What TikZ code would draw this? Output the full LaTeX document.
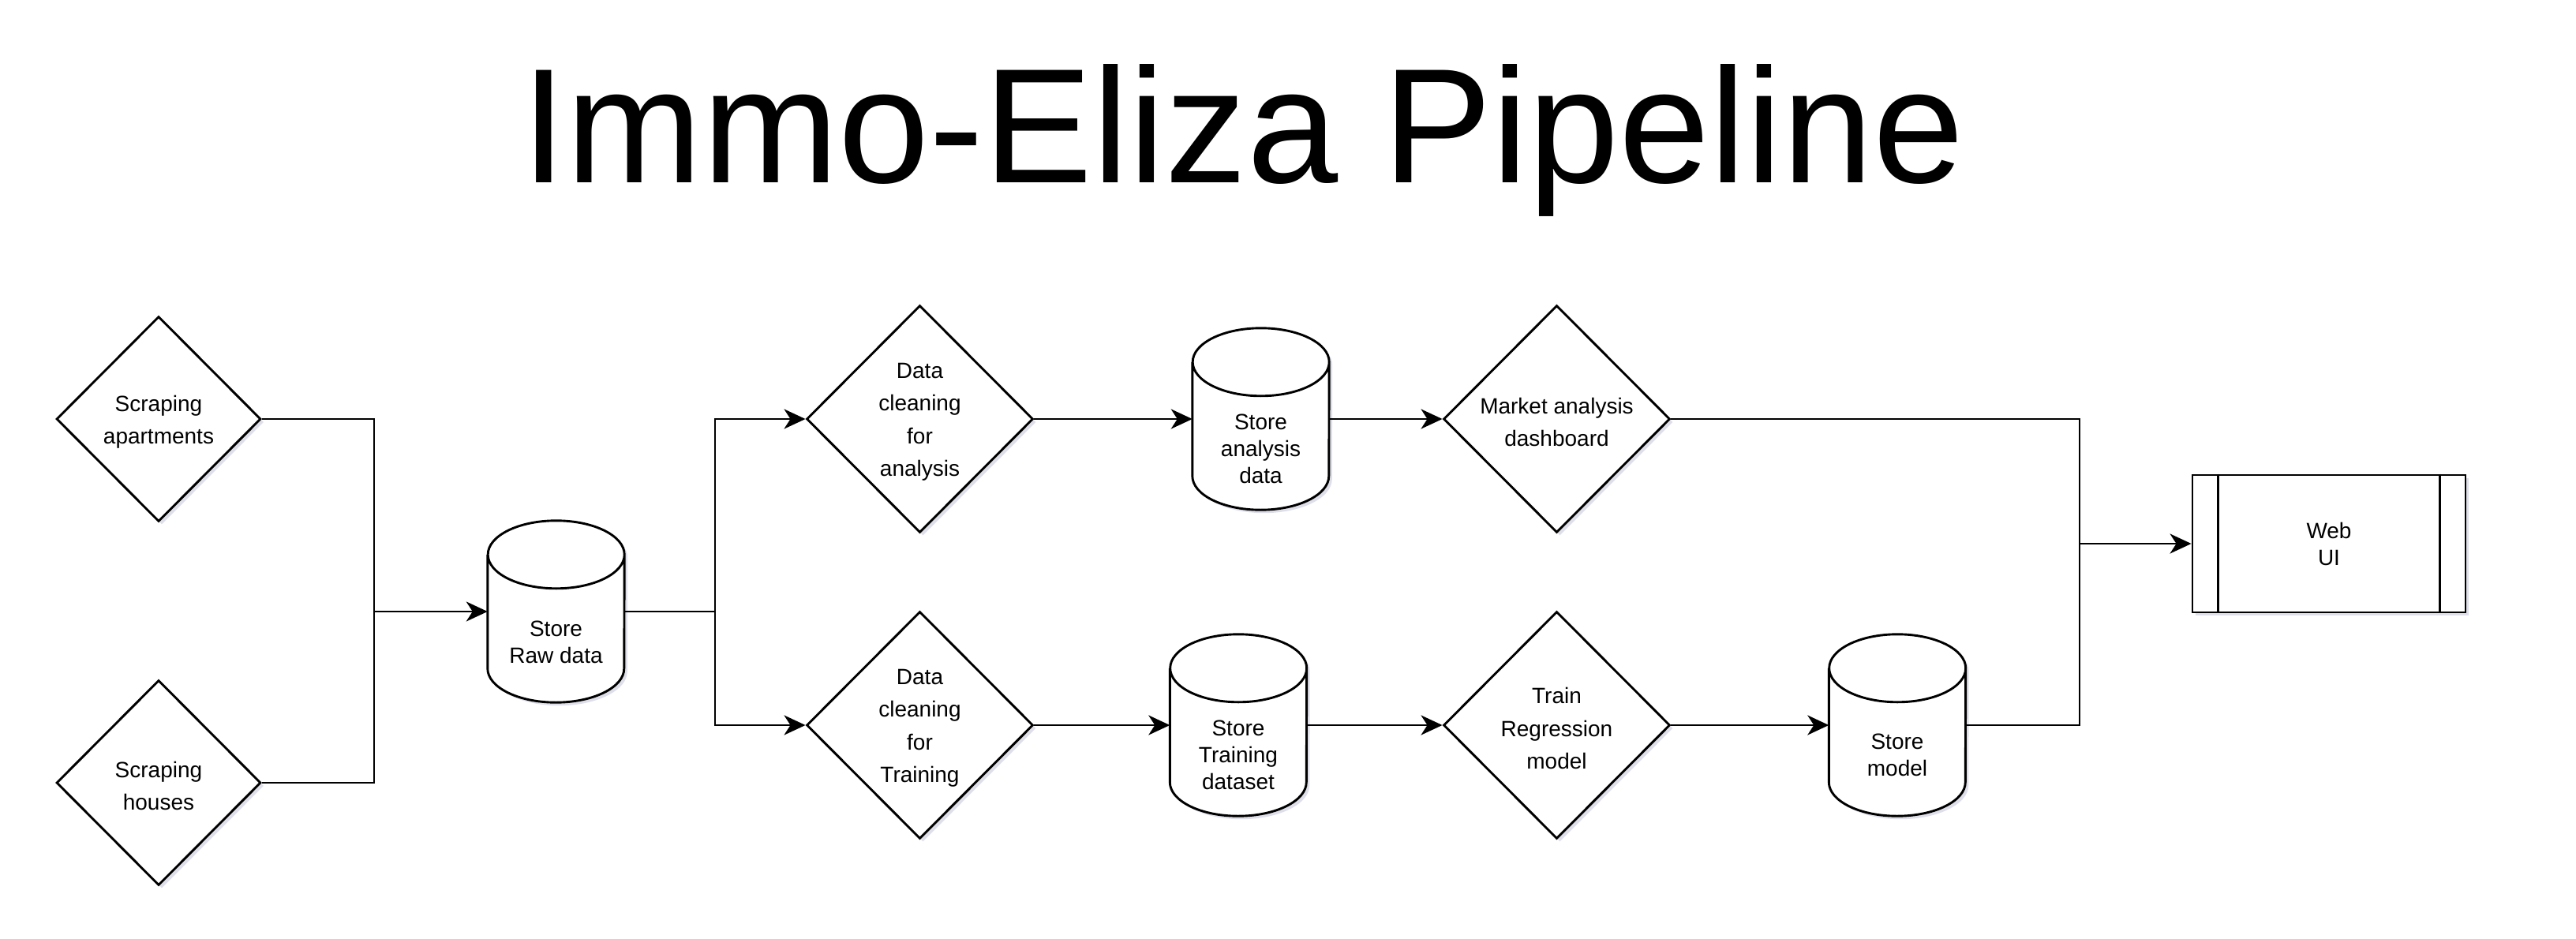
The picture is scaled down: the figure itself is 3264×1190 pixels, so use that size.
\documentclass[tikz,border=0pt]{standalone}
\usepackage{fontspec}
\setmainfont{Liberation Sans}
\usetikzlibrary{shapes.geometric,arrows.meta,shadows}
\definecolor{shd}{RGB}{110,110,160}
\newcommand\mycyl[1]{%
  \path[shp] ([yshift=-43pt]#1.north west) -- ([yshift=43pt]#1.south west)
     arc[start angle=180, end angle=360, x radius=86.5pt, y radius=43pt]
     -- ([yshift=-43pt]#1.north east)
     arc[start angle=0, end angle=360, x radius=86.5pt, y radius=43pt];
}
\begin{document}
\begin{tikzpicture}[x=1pt,y=-1pt,
  shp/.style={draw, fill=white, line width=2.9pt, line join=miter,
    drop shadow={shadow xshift=4pt, shadow yshift=-4pt, fill=shd, opacity=0.22}},
  dia/.style={shp, diamond, inner sep=0pt, minimum width=287pt, minimum height=288pt},
  smalldia/.style={dia, minimum width=259pt, minimum height=260pt},
  lbl/.style={font=\fontsize{28}{41.5}\selectfont, align=center, inner sep=0pt},
  clbl/.style={font=\fontsize{28}{34}\selectfont, align=center, inner sep=0pt},
  cylbox/.style={inner sep=0pt, minimum width=173pt, minimum height=230pt},
  conn/.style={line width=2.9pt},
  arr/.style={conn, -{Stealth[length=27pt,width=25pt,inset=8pt]}}
]
\path[use as bounding box, fill=white] (0,0) rectangle (3264,1190);

% title
\node[anchor=base, font=\fontsize{207}{240}\selectfont, inner sep=0pt] (title) at (1575,232) {Immo-Eliza Pipeline};

% diamonds
\node[smalldia] (apt) at (201,531) {};
\node[lbl] (aptt) at (201,535) {Scraping\\apartments};
\node[smalldia] (hou) at (201,992) {};
\node[lbl] (hout) at (201,996) {Scraping\\houses};
\node[dia] (dca) at (1165.5,531) {};
\node[lbl] (dcat) at (1165.5,535) {Data\\cleaning\\for\\analysis};
\node[dia] (dct) at (1165.5,919) {};
\node[lbl] (dctt) at (1165.5,923) {Data\\cleaning\\for\\Training};
\node[dia] (mad) at (1972.5,531) {};
\node[lbl] (madt) at (1972.5,535) {Market analysis\\dashboard};
\node[dia] (trm) at (1972.5,919) {};
\node[lbl] (trmt) at (1972.5,923) {Train\\Regression\\model};

% cylinders
\node[cylbox] (raw) at (704.5,775) {};
\mycyl{raw}
\node[clbl] (rawt) at (704.5,814) {Store\\Raw data};
\node[cylbox] (sad) at (1597.5,531) {};
\mycyl{sad}
\node[clbl] (sadt) at (1597.5,569) {Store\\analysis\\data};
\node[cylbox] (std) at (1569,919) {};
\mycyl{std}
\node[clbl] (stdt) at (1569,957) {Store\\Training\\dataset};
\node[cylbox] (smd) at (2404,919) {};
\mycyl{smd}
\node[clbl] (smdt) at (2404,957) {Store\\model};

% web UI
\node[shp, minimum width=346pt, minimum height=174pt, inner sep=0pt] (web) at (2951,689) {};
\draw[line width=2.9pt] ([xshift=34pt]web.north west) -- ([xshift=34pt]web.south west);
\draw[line width=2.9pt] ([xshift=-34pt]web.north east) -- ([xshift=-34pt]web.south east);
\node[clbl] (webt) at (2951,689) {Web\\UI};

% junctions
\coordinate (j1) at (474,775);
\coordinate (j2) at (906,775);
\coordinate (j3) at (2635,689);

% connectors
\draw[conn] (apt.east) -| (j1);
\draw[conn] (hou.east) -| (j1);
\draw[arr] (j1) -- (raw.west);
\draw[conn] (raw.east) -- (j2);
\draw[arr] (j2) |- (dca.west);
\draw[arr] (j2) |- (dct.west);
\draw[arr] (dca.east) -- (sad.west);
\draw[arr] (dct.east) -- (std.west);
\draw[arr] (sad.east) -- (mad.west);
\draw[arr] (std.east) -- (trm.west);
\draw[arr] (trm.east) -- (smd.west);
\draw[conn] (mad.east) -| (j3);
\draw[conn] (smd.east) -| (j3);
\draw[arr] (j3) -- (web.west);
\end{tikzpicture}
\end{document}
